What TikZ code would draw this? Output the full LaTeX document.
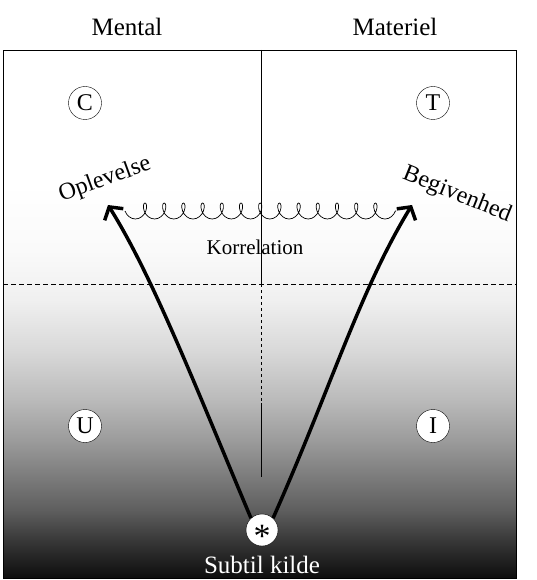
\documentclass[tikz,border=0pt]{standalone}
\usepackage{fontspec}
\setmainfont{Liberation Serif}
\usepackage{tikz}
\usetikzlibrary{positioning}
\usetikzlibrary{decorations.pathmorphing}
\usetikzlibrary{arrows.meta}
\usepackage{xcolor}

\pgfdeclareverticalshading{darkfloor}{100bp}{color(0bp)=(black!95); color(25bp)=(black!95); color(29.8bp)=(black!78); color(33.6bp)=(black!63); color(42.5bp)=(black!39); color(47.6bp)=(black!27); color(53.9bp)=(black!15); color(60.3bp)=(black!6); color(66.6bp)=(black!2); color(75bp)=(white); color(100bp)=(white)}

\tikzset{
	quadrant/.style={draw, circle, fill=white, minimum size=33pt, inner sep=0pt, font=\fontsize{24}{24}\selectfont},
	heading/.style={font=\fontsize{25}{25}\selectfont},
	tilted/.style={font=\fontsize{24}{24}\selectfont},
	flow/.style={-{Straight Barb[length=9pt, width=22pt]}, line width=3.5pt}
}

\begin{document}
\begin{tikzpicture} [x=1pt, y=-1pt]
					\useasboundingbox (0, 0) rectangle (537, 580);

					\shade [shading=darkfloor] (3, 184) rectangle (516, 578);
					\draw [black, line width=0.8pt] (3, 50) rectangle (516, 578);

					\draw [black, line width=0.6pt] (261, 50)--(261, 284);
					\draw [black, line width=0.6pt, dashed] (261, 284)--(261, 403);
					\draw [black, line width=0.6pt] (261, 403)--(261, 477);
					\draw [black, line width=0.6pt, dash pattern=on 5pt off 3pt] (3, 284)--(516, 284);

					\node [heading] (mental) at (127, 27) {Mental};
					\node [heading] (materiel) at (395, 27) {Materiel};

					\node [quadrant] (C) at (85, 103) {C};
					\node [quadrant] (T) at (433, 103) {T};
					\node [quadrant] (U) at (85, 426) {U};
					\node [quadrant] (I) at (433, 426) {I};

					\node [tilted, rotate=20] (oplevelse) at (105, 180) {Oplevelse};
					\node [tilted, rotate=-22] (begivenhed) at (457, 195) {Begivenhed};
					\node [font=\fontsize{21}{21}\selectfont] (korrelation) at (255, 247) {Korrelation};

					\node [quadrant, minimum size=32pt, text height=0pt, text depth=0pt, font=\fontsize{34}{34}\selectfont] (kilde) at (262, 530) {\raisebox{-17pt}{*}};
					\node [heading, white, below=6pt of kilde] (kildetekst) {Subtil kilde};

					\coordinate (opTip) at (108, 205);
					\coordinate (beTip) at (412, 205);
					\coordinate (coilA) at (125, 211);
					\coordinate (coilB) at (396, 211);

					\draw [black, line width=0.7pt, decorate, decoration={coil, mirror, amplitude=8pt, segment length=19.2pt, aspect=0.7}] (coilA)--(coilB);

					\draw [flow] (kilde.133) .. controls (195, 385) and (152, 275) .. (opTip);
					\draw [flow] (kilde.47) .. controls (330, 390) and (360, 290) .. (beTip);
				\end{tikzpicture}
\end{document}
